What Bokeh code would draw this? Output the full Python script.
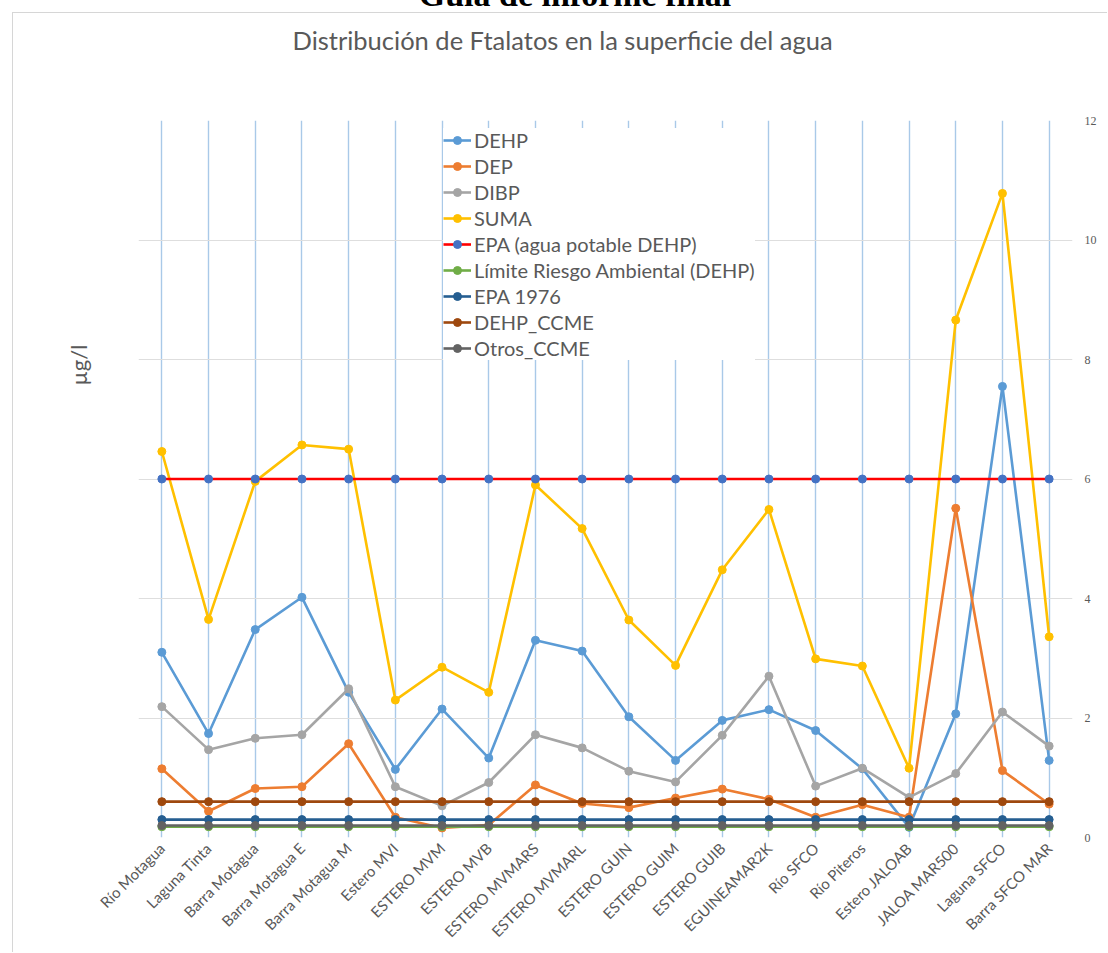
from math import pi
from bokeh.plotting import figure
from bokeh.layouts import column, row
from bokeh.models import (FactorRange, Range1d, Legend, LegendItem, FixedTicker,
                          Div, Spacer, Title)
from bokeh.embed import file_html
from bokeh.resources import INLINE

cats = ["Río Motagua", "Laguna Tinta", "Barra Motagua", "Barra Motagua E",
        "Barra Motagua M", "Estero MVI", "ESTERO MVM", "ESTERO MVB",
        "ESTERO MVMARS", "ESTERO MVMARL", "ESTERO GUIN", "ESTERO GUIM",
        "ESTERO GUIB", "EGUINEAMAR2K", "Río SFCO", "Río Piteros",
        "Estero JALOAB", "JALOA MAR500", "Laguna SFCO", "Barra SFCO MAR"]

dehp = [3.10, 1.74, 3.48, 4.02, 2.43, 1.14, 2.15, 1.33, 3.30, 3.12,
        2.02, 1.29, 1.96, 2.14, 1.79, 1.15, 0.17, 2.07, 7.55, 1.29]
dep = [1.15, 0.44, 0.82, 0.85, 1.57, 0.34, 0.16, 0.21, 0.88, 0.57,
       0.50, 0.66, 0.81, 0.64, 0.34, 0.55, 0.34, 5.51, 1.12, 0.56]
dibp = [2.19, 1.47, 1.66, 1.72, 2.49, 0.85, 0.53, 0.92, 1.72, 1.50,
        1.11, 0.93, 1.71, 2.70, 0.86, 1.16, 0.67, 1.07, 2.10, 1.53]
suma = [6.46, 3.65, 5.96, 6.57, 6.50, 2.30, 2.85, 2.43, 5.90, 5.17,
        3.64, 2.88, 4.48, 5.49, 2.99, 2.87, 1.16, 8.66, 10.78, 3.36]
epa_potable = [6.0, 6.0, 6.0, 6.0, 6.0, 6.0, 6.0, 6.0, 6.0, 6.0,
               6.0, 6.0, 6.0, 6.0, 6.0, 6.0, 6.0, 6.0, 6.0, 6.0]
limite_riesgo = [0.18, 0.18, 0.18, 0.18, 0.18, 0.18, 0.18, 0.18, 0.18, 0.18,
                 0.18, 0.18, 0.18, 0.18, 0.18, 0.18, 0.18, 0.18, 0.18, 0.18]
epa_1976 = [0.3, 0.3, 0.3, 0.3, 0.3, 0.3, 0.3, 0.3, 0.3, 0.3,
            0.3, 0.3, 0.3, 0.3, 0.3, 0.3, 0.3, 0.3, 0.3, 0.3]
dehp_ccme = [0.6, 0.6, 0.6, 0.6, 0.6, 0.6, 0.6, 0.6, 0.6, 0.6,
             0.6, 0.6, 0.6, 0.6, 0.6, 0.6, 0.6, 0.6, 0.6, 0.6]
otros_ccme = [0.2, 0.2, 0.2, 0.2, 0.2, 0.2, 0.2, 0.2, 0.2, 0.2,
              0.2, 0.2, 0.2, 0.2, 0.2, 0.2, 0.2, 0.2, 0.2, 0.2]

y_ticks = [0, 2, 4, 6, 8, 10, 12]

series = [
    ("DEHP", dehp, "#5B9BD5", "#5B9BD5"),
    ("DEP", dep, "#ED7D31", "#ED7D31"),
    ("DIBP", dibp, "#A5A5A5", "#A5A5A5"),
    ("SUMA", suma, "#FFC000", "#FFC000"),
    ("EPA (agua potable DEHP)", epa_potable, "#FF0000", "#4472C4"),
    ("Límite Riesgo Ambiental (DEHP)", limite_riesgo, "#70AD47", "#70AD47"),
    ("EPA 1976", epa_1976, "#255E91", "#255E91"),
    ("DEHP_CCME", dehp_ccme, "#9E480E", "#9E480E"),
    ("Otros_CCME", otros_ccme, "#636363", "#636363"),
]

FONT = "Lato"
GRAY = "#595959"

# page geometry: header strip 12px, chart box starts at (12, 12) with 1px border
OFF = 13
W, H = 1108 - OFF, 953 - OFF
BL = 138 - OFF
BT = 120 - OFF
BR = W - (1072 - OFF)
BB = H - (837 - OFF)

p = figure(x_range=FactorRange(factors=cats, range_padding=0),
           y_range=Range1d(0, 12), width=W, height=H,
           output_backend="svg", toolbar_location=None,
           y_axis_location="right", title=None,
           min_border_left=BL, min_border_right=BR,
           min_border_top=BT, min_border_bottom=BB)
p.outline_line_color = None
p.background_fill_color = "white"
p.border_fill_color = "white"
p.styles = {"border-top": "1px solid #D6D6D6",
            "border-left": "1px solid #D6D6D6"}

# empty title used as a gap between the chart title and the plot area
p.add_layout(Title(text=" ", text_font_size="10px", standoff=53), "above")
p.add_layout(Title(text="Distribución de Ftalatos en la superficie del agua",
                   align="left", offset=154, standoff=0, text_font=FONT,
                   text_font_size="25.5px", text_font_style="normal",
                   text_color=GRAY), "above")

# unit title on the left
p.add_layout(Title(text="µg/l", align="left", offset=452, standoff=93,
                   text_font=FONT, text_font_size="22px",
                   text_font_style="normal", text_color=GRAY), "left")

# right axis
ya = p.yaxis[0]
ya.ticker = FixedTicker(ticks=y_ticks)
ya.axis_line_color = None
ya.major_tick_line_color = None
ya.minor_tick_line_color = None
ya.major_tick_out = 0
ya.major_tick_in = 0
ya.major_label_standoff = 12
ya.major_label_text_font = "Liberation Serif"
ya.major_label_text_font_size = "12px"
ya.major_label_text_color = GRAY

# bottom axis
xa = p.xaxis[0]
xa.axis_line_color = None
xa.major_tick_line_color = None
xa.minor_tick_line_color = None
xa.major_tick_out = 0
xa.major_tick_in = 0
xa.major_label_orientation = pi / 4
xa.major_label_text_font = FONT
xa.major_label_text_font_size = "15px"
xa.major_label_text_color = GRAY
xa.major_label_standoff = 8

p.ygrid.grid_line_color = "#DEDEDE"
p.ygrid.grid_line_width = 1
p.xgrid.grid_line_color = "#A9C9E8"
p.xgrid.grid_line_width = 1.4

items = []
for name, vals, lc, mc in series:
    r1 = p.line(x=cats, y=vals, line_color=lc, line_width=2.6)
    r2 = p.scatter(x=cats, y=vals, size=8, fill_color=mc, line_color=mc)
    items.append(LegendItem(label=name, renderers=[r1, r2]))

legend = Legend(items=items, location=(305, 837 - 360),
                label_text_font=FONT, label_text_font_size="20px",
                label_text_color=GRAY, glyph_width=28, glyph_height=20,
                label_height=20, spacing=2, padding=5, margin=0,
                label_standoff=3, border_line_color=None,
                background_fill_color="white", background_fill_alpha=1)
p.add_layout(legend)

header = Div(text=('<div style="position:relative; top:-25px; margin:0; '
                   'padding:0; font-family:\'Liberation Serif\'; '
                   'font-weight:bold; font-size:34px; line-height:39px; '
                   'color:black; text-align:center; width:1150px;">'
                   'Guía de informe final</div>'),
             width=1108, height=12, margin=0,
             styles={"overflow": "hidden"})

layout = column(header, row(Spacer(width=12, height=H, margin=0), p,
                            spacing=0), spacing=0)

open("out.html", "w").write(file_html(layout, INLINE))
